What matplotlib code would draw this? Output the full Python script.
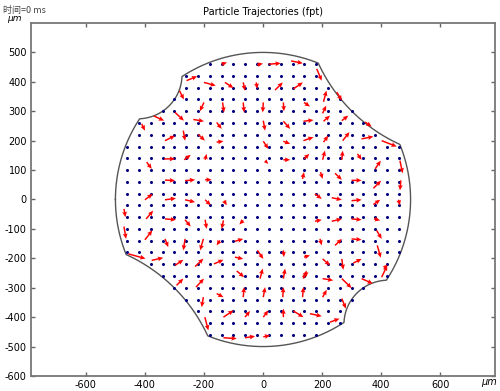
"""Particle trajectories at t = 0: seed grid, initial velocity arrows and domain outline."""
import numpy as np
import matplotlib
matplotlib.use("Agg")
import matplotlib.pyplot as plt

# ── data ─────────────────────────────────────────────────────────────────────
# seed grid (µm) – particles released on a 40 µm lattice
grid_values = np.arange(-500, 501, 40)

# domain: disc of radius 500 µm with four circular notches
disc_radius = 500
notch_angle = [135, 45, -45, -135]      # deg
notch_dist = [600, 985, 600, 985]       # centre distance from origin, µm
notch_radius = [150, 560, 150, 560]     # µm

# arrows: tail (x0, y0) and head (x1, y1) in µm
arrow_x0 = [-140, -20, 20, 95, -259, -200, -129, -67, -23, 41, 103, 182, 205, 250,
            -283, -200, -137, -67, 1, 69, 139, 202, -370, -298, -236, -157, 1, 69,
            137, 205, 267, 346, -411, -332, -270, -219, -157, 1, 69, 137, 205, 270,
            334, 402, -335, -267, -196, 7, 69, 139, 202, 267, 320, -394, 464, 380,
            -332, -264, -196, 134, 195, 244, 300, 374, 467, -400, -332, -264, -196,
            -132, 176, 233, 300, 374, 459, -471, -396, -332, -264, -196, -134, -67,
            176, 233, 300, 376, -471, -400, -332, -264, -202, -146, -95, 385, 300,
            193, 244, 387, -456, -377, -298, -230, -166, -95, -19, 69, 139, 202,
            267, 306, 413, -293, -227, -89, -10, 69, 137, 202, 267, 334, 402, 134,
            -157, -67, 1, 67, 134, 202, 267, -202, -134, -61, 1, 69, 103, 159, 227,
            -197, -134, -61, 1]
arrow_y0 = [460, 458, 460, 471, 404, 398, 398, 398, 398, 372, 376, 444, 332, 365,
            370, 330, 330, 330, 330, 330, 330, 293, 284, 296, 272, 262, 268, 266,
            266, 266, 268, 263, 257, 200, 234, 221, 195, 198, 198, 200, 195, 200,
            206, 200, 138, 135, 135, 132, 135, 138, 135, 135, 155, 127, 132, 104,
            66, 64, 67, 70, 93, 89, 65, 38, 65, -1, -1, -1, -1,
            -4, 19, 6, -4, -17, -1, -32, -66, -66, -69, -69, -71, -71,
            -74, -74, -66, -66, -92, -137, -134, -134, -134, -139, -142, -105, -134,
            -134, -156, -156, -185, -207, -224, -228, -219, -196, -173, -173, -196, -202,
            -202, -216, -224, -292, -298, -243, -269, -269, -269, -269, -269, -269, -264, -264,
            -320, -332, -332, -332, -332, -332, -337, -332, -400, -400, -400, -400, -379, -388, -417,
            -400, -470, -470, -467]
arrow_x1 = [-122, 0, 60, 135, -223, -160, -100, -61, -19, 67, 135, 199, 215, 267,
            -268, -214, -132, -64, -1, 71, 159, 214, -335, -268, -200, -140, 7, 92,
            171, 227, 289, 368, -400, -298, -264, -197, -134, 18, 92, 171, 221, 293,
            374, 453, -298, -245, -191, 18, 92, 157, 210, 270, 334, -377, 473, 399,
            -298, -230, -174, 139, 202, 267, 334, 400, 464, -374, -295, -230, -177,
            -123, 199, 267, 334, 397, 464, -466, -372, -295, -245, -191, -140, -80,
            199, 267, 334, 397, -464, -375, -321, -270, -213, -157, -67, 402, 334,
            199, 267, 399, -398, -338, -270, -202, -134, -67, 1, 71, 159, 227,
            272, 334, 419, -270, -200, -64, -1, 75, 148, 238, 300, 372, 421, 154,
            -134, -64, 7, 69, 137, 216, 281, -208, -100, -44, 18, 69, 137, 199, 259,
            -185, -89, -27, 24]
arrow_y1 = [466, 462, 463, 463, 419, 387, 379, 370, 376, 398, 398, 404, 370, 336,
            340, 300, 296, 296, 296, 300, 316, 319, 268, 268, 266, 240, 234, 240,
            270, 285, 285, 248, 234, 217, 200, 200, 198, 172, 189, 212, 217, 229,
            214, 180, 138, 152, 155, 121, 135, 155, 166, 166, 135, 104, 89, 132,
            64, 67, 67, 93, 70, 67, 65, 64, 31, 19, 4, -9, -20,
            -20, 2, -1, -1, -1, -20, -60, -38, -69, -92, -100, -100, -85,
            -69, -66, -69, -71, -134, -105, -162, -173, -173, -156, -134, -134, -137,
            -156, -134, -198, -201, -198, -205, -201, -205, -202, -202, -196, -190, -224,
            -239, -202, -241, -269, -269, -264, -235, -235, -241, -275, -301, -286, -224, -247,
            -332, -298, -298, -298, -298, -307, -371, -366, -377, -379, -377, -371, -400, -397, -405,
            -445, -473, -465, -462]

# ── derived geometry ─────────────────────────────────────────────────────────
gx, gy = np.meshgrid(grid_values, grid_values)
gx, gy = gx.ravel(), gy.ravel()
inside = np.hypot(gx, gy) <= disc_radius - 1
for a, d, r in zip(notch_angle, notch_dist, notch_radius):
    cx, cy = d * np.cos(np.radians(a)), d * np.sin(np.radians(a))
    inside &= np.hypot(gx - cx, gy - cy) >= r
px, py = gx[inside], gy[inside]

# outline: walk round the origin, clip each ray by the notch circles it meets
theta = np.linspace(-np.pi, np.pi, 3000)
rho = np.full_like(theta, float(disc_radius))
for a, d, r in zip(notch_angle, notch_dist, notch_radius):
    dt = theta - np.radians(a)
    disc = r**2 - (d * np.sin(dt))**2
    hit = (disc >= 0) & (np.cos(dt) > 0)
    t = np.where(hit, d * np.cos(dt) - np.sqrt(np.clip(disc, 0, None)), np.inf)
    rho = np.minimum(rho, t)
bx, by = rho * np.cos(theta), rho * np.sin(theta)

u = np.subtract(arrow_x1, arrow_x0)
v = np.subtract(arrow_y1, arrow_y0)

# ── plot ─────────────────────────────────────────────────────────────────────
plt.rcParams["axes.unicode_minus"] = False
plt.rcParams["font.family"] = ["DejaVu Sans", "Noto Sans CJK SC"]

fig = plt.figure(figsize=(5.0, 3.91), dpi=100)
ax = fig.add_axes([0.062, 0.0384, 0.928, 0.9028])

ax.plot(bx, by, color="#555555", lw=1.0, zorder=2)
ax.plot(px, py, "o", color="#000080", ms=2.2, mew=0, zorder=3)
ax.quiver(arrow_x0, arrow_y0, u, v, angles="xy", scale_units="xy", scale=1,
          color="#ff0000", width=0.0032, headwidth=3.2, headlength=3.6,
          headaxislength=3.2, zorder=4)

ax.set_xlim(-786, 786)
ax.set_ylim(-600, 600)
ax.set_xticks(np.arange(-600, 601, 200))
ax.set_yticks(np.arange(-600, 501, 100))
ax.tick_params(direction="in", length=3, width=1, colors="#666666",
               labelcolor="black", labelsize=7, top=True, right=True, pad=3)
for s in ax.spines.values():
    s.set_color("#777777")
    s.set_linewidth(1.3)

ax.set_title("Particle Trajectories (fpt)", fontsize=7, pad=6)
fig.text(0.006, 0.972, "时间=0 ms", fontsize=6.5, color="#444444",
         family=["Noto Sans CJK SC", "DejaVu Sans"], va="center")
fig.text(0.014, 0.953, "μm", fontsize=6.5, style="italic", va="center")
fig.text(0.962, 0.022, "μm", fontsize=7, style="italic", va="center")

fig.savefig("out.png", dpi=100)
plt.close(fig)
